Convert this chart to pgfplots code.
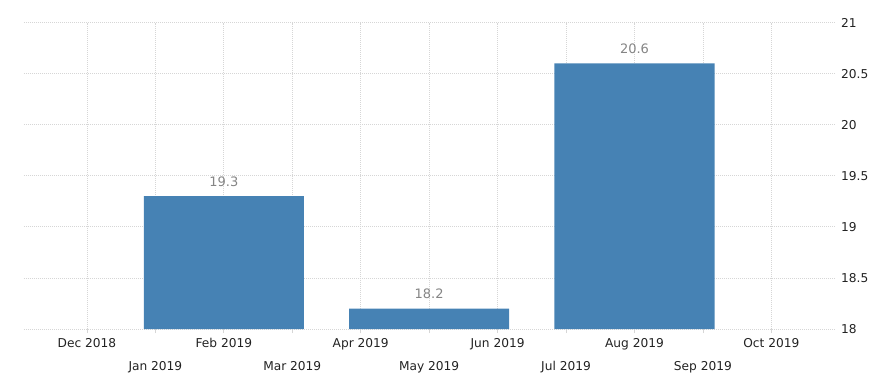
\documentclass[border=0pt]{standalone}
\usepackage{pgfplots}
\pgfplotsset{compat=1.18}
\usepackage{fontspec}
\setmainfont{DejaVu Sans}
\definecolor{barblue}{HTML}{4682B4}
\definecolor{gridc}{HTML}{D6D6D6}
\definecolor{labc}{HTML}{222222}
\definecolor{valc}{HTML}{858585}
\begin{document}
\begin{tikzpicture}
\begin{axis}[
  scale only axis, width=811pt, height=306.5pt,
  xmin=-0.92, xmax=10.93, ymin=18, ymax=21,
  axis line style={draw=none},
  xtick={0,2,4,6,8,10},
  xticklabels={Dec 2018,Feb 2019,Apr 2019,Jun 2019,Aug 2019,Oct 2019},
  extra x ticks={1,3,5,7,9},
  extra x tick labels={Jan 2019,Mar 2019,May 2019,Jul 2019,Sep 2019},
  extra x tick style={grid=major, tick label style={yshift=-23pt}},
  xtick pos=bottom, tick align=outside,
  major tick length=4pt,
  x tick style={draw=gridc, line width=0.8pt},
  ytick={18,18.5,19,19.5,20,20.5,21},
  yticklabels={18,18.5,19,19.5,20,20.5,21},
  ytick pos=right, yticklabel pos=right,
  ytick style={draw=none},
  grid=major,
  grid style={gridc, line width=0.8pt, dash pattern=on 1pt off 1pt},
  ticklabel style={font=\fontsize{12.2}{14}\selectfont, text=labc},
  xticklabel style={anchor=north, inner sep=0pt, yshift=-5.5pt},
  yticklabel style={anchor=west, inner sep=0pt, xshift=2pt},
  ybar, bar width=2.34,
  nodes near coords, point meta=explicit symbolic,
  nodes near coords style={font=\fontsize{13}{15}\selectfont, text=valc, anchor=south, inner sep=0pt, yshift=9.5pt},
]
\addplot[fill=barblue, draw=none] coordinates {(2,19.3)[19.3] (5,18.2)[18.2] (8,20.6)[20.6]};
\end{axis}
\pgfresetboundingbox
\path (current axis.south west) ++(-24pt,-49pt) rectangle ++(870pt,378pt);
\end{tikzpicture}
\end{document}
